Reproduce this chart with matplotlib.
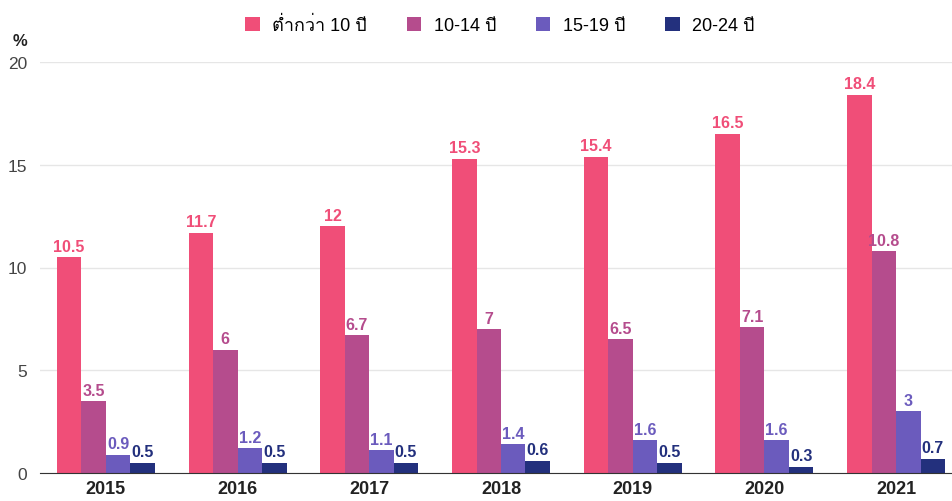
import numpy as np
import matplotlib.pyplot as plt
from matplotlib import font_manager
from matplotlib.ft2font import FT2Font

years = ["2015", "2016", "2017", "2018", "2019", "2020", "2021"]
groups = ["ต่ำกว่า 10 ปี", "10-14 ปี", "15-19 ปี", "20-24 ปี"]
under_10 = [10.5, 11.7, 12, 15.3, 15.4, 16.5, 18.4]
age_10_14 = [3.5, 6, 6.7, 7, 6.5, 7.1, 10.8]
age_15_19 = [0.9, 1.2, 1.1, 1.4, 1.6, 1.6, 3]
age_20_24 = [0.5, 0.5, 0.5, 0.6, 0.5, 0.3, 0.7]
colors = ["#f04e78", "#b54c8d", "#6b5bbd", "#23307d"]


# find an installed font that can draw Thai
def thai_family():
    for f in font_manager.fontManager.ttflist:
        try:
            if 0x0E15 in FT2Font(f.fname).get_charmap():
                return f.name
        except Exception:
            pass
    return None


fam = ["Liberation Sans", "DejaVu Sans"]
th = thai_family()
if th:
    fam.insert(1, th)
plt.rcParams["font.family"] = fam

fig = plt.figure(figsize=(9.53, 5.02), dpi=100)
ax = fig.add_axes([40 / 953, 28 / 502, 922 / 953, 411 / 502])

series = [under_10, age_10_14, age_15_19, age_20_24]
x = np.arange(len(years))
w = 0.186
for i, (vals, c, lab) in enumerate(zip(series, colors, groups)):
    pos = x + (i - 1.5) * w
    ax.bar(pos, vals, w, color=c, label=lab, zorder=3)
    for p, v in zip(pos, vals):
        ax.annotate(f"{v:g}", (p, v), xytext=(0, 2.5), textcoords="offset points",
                    ha="center", va="bottom", color=c, fontsize=11.5,
                    fontweight="bold", zorder=4)

ax.set_xlim(-0.5, 6.5)
ax.set_ylim(0, 20)
ax.set_yticks([0, 5, 10, 15, 20])
ax.set_xticks(x)
ax.set_xticklabels(years, fontweight="bold", fontsize=13, color="#222222")
ax.tick_params(axis="y", length=0, labelsize=12.5, labelcolor="#444444", pad=9)
ax.tick_params(axis="x", length=0, pad=5)
ax.grid(axis="y", color="#e6e6e6", linewidth=1, zorder=0)
for s in ["top", "right", "left"]:
    ax.spines[s].set_visible(False)
ax.spines["bottom"].set_color("#333333")
ax.spines["bottom"].set_zorder(5)

fig.text(20 / 953, 1 - 41 / 502, "%", ha="center", va="center",
         fontsize=12, fontweight="bold", color="#222222")
fig.legend(loc="center", bbox_to_anchor=(500 / 953, 1 - 26 / 502), ncol=4,
           frameon=False, fontsize=13, handlelength=0.8, handleheight=0.8,
           columnspacing=2.2, handletextpad=0.7)

fig.savefig("out.png", dpi=100)
